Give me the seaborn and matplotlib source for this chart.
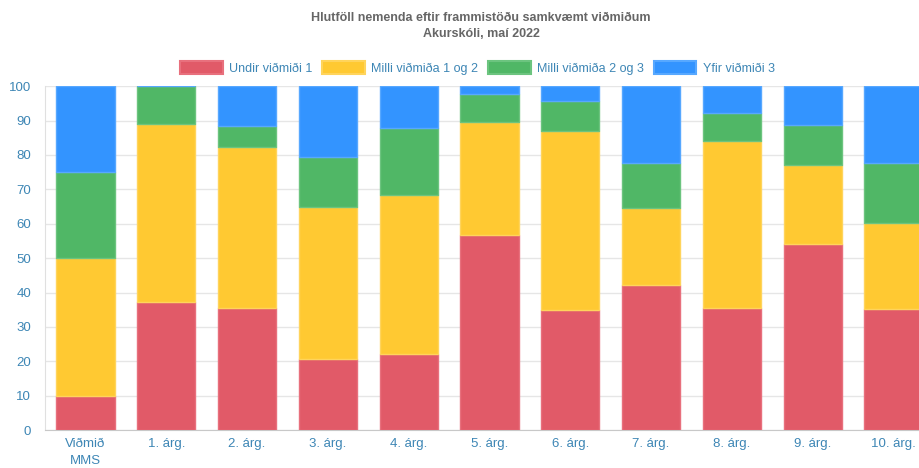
import pandas as pd
import matplotlib.pyplot as plt
import seaborn as sns

# Data (percent of students per category)
categories = ['Viðmið\nMMS', '1. árg.', '2. árg.', '3. árg.', '4. árg.', '5. árg.',
              '6. árg.', '7. árg.', '8. árg.', '9. árg.', '10. árg.']
undir_1 = [10.0, 37.2, 35.4, 20.7, 22.0, 56.7, 34.8, 42.2, 35.4, 54.0, 35.1]
milli_1_2 = [40.0, 51.9, 47.0, 44.1, 46.4, 33.0, 52.1, 22.3, 48.5, 23.0, 25.1]
milli_2_3 = [25.0, 10.9, 5.9, 14.6, 19.5, 7.9, 8.8, 13.1, 8.2, 11.6, 17.4]
yfir_3 = [25.0, 0.0, 11.7, 20.6, 12.1, 2.4, 4.3, 22.4, 7.9, 11.4, 22.4]

series_names = ['Undir viðmiði 1', 'Milli viðmiða 1 og 2', 'Milli viðmiða 2 og 3', 'Yfir viðmiði 3']
colors = ['#e15a68', '#ffc932', '#50b766', '#3394ff']
edges = ['#e8707d', '#ffd45c', '#6cc47f', '#57a8ff']

df = pd.DataFrame({'Flokkur': categories, series_names[0]: undir_1, series_names[1]: milli_1_2,
                   series_names[2]: milli_2_3, series_names[3]: yfir_3})

sns.set_style('white')
plt.rcParams['font.family'] = ['Liberation Sans', 'DejaVu Sans']

tick_color = '#3d86b5'

fig = plt.figure(figsize=(9.2, 4.68), dpi=100)
# axes intentionally run past the right edge, like the cropped original
ax = fig.add_axes([0.049, 0.081, 0.966, 0.735])

bottom = pd.Series([0.0] * len(categories))
for name, c, ec in zip(series_names, colors, edges):
    sns.barplot(data=df, x='Flokkur', y=name, color=c, bottom=bottom, width=0.72,
                edgecolor=ec, linewidth=1, saturation=1, ax=ax, label=name, zorder=3)
    bottom = bottom + df[name]

ax.set_ylim(0, 100)
ax.set_xlim(-0.5, len(categories) - 0.5)
ax.set_yticks(range(0, 101, 10))
ax.set_xlabel('')
ax.set_ylabel('')
ax.grid(axis='y', color='#e6e6e6', linewidth=1, zorder=0)
ax.tick_params(axis='both', colors=tick_color, labelsize=9.5)
ax.tick_params(axis='y', length=8, color='#e6e6e6', pad=2)
ax.tick_params(axis='x', length=0, pad=6)
for lbl in ax.get_xticklabels():
    lbl.set_linespacing(1.55)
for s in ['top', 'right']:
    ax.spines[s].set_visible(False)
ax.spines['left'].set_color('#e0e0e0')
ax.spines['bottom'].set_color('#c8c8c8')
if ax.legend_:
    ax.legend_.remove()

handles = [plt.Rectangle((0, 0), 1, 1, facecolor=c, edgecolor=ec, linewidth=1.5)
           for c, ec in zip(colors, edges)]
fig.legend(handles, series_names, loc='center', bbox_to_anchor=(0.519, 0.855), ncol=4,
           frameon=False, fontsize=9, labelcolor=tick_color, handlelength=3.4,
           handleheight=1.25, handletextpad=0.5, columnspacing=0.8)

fig.text(0.523, 0.961, 'Hlutföll nemenda eftir frammistöðu samkvæmt viðmiðum', ha='center',
         va='center', fontsize=9, fontweight='bold', color='#666666')
fig.text(0.523, 0.927, 'Akurskóli, maí 2022', ha='center', va='center', fontsize=9,
         fontweight='bold', color='#666666')

plt.savefig('out.png', dpi=100)
